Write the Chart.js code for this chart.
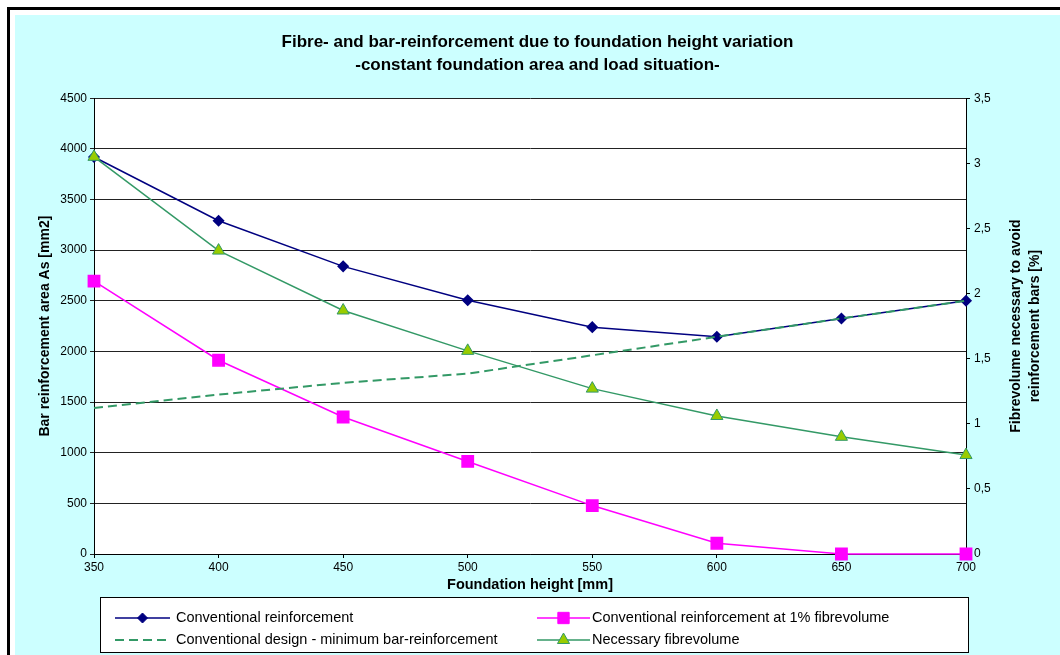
<!DOCTYPE html>
<html>
<head>
<meta charset="utf-8">
<title>Fibre- and bar-reinforcement</title>
<script src="https://cdn.jsdelivr.net/npm/chart.js"></script>
<style>
  html, body { margin: 0; padding: 0; background: #fff; }
  #wrap { width: 1060px; height: 655px; }
</style>
</head>
<body>
<div id="wrap"><canvas id="reinfChart" width="1060" height="655"></canvas></div>
<script>
// values
const heights = [350, 400, 450, 500, 550, 600, 650, 700];
const conventional = [3920, 3290, 2840, 2505, 2240, 2145, 2325, 2500];
const conventionalAt1pct = [2695, 1913, 1353, 914, 478, 106, 0, 0];
const minimumBar = [1442, 1574, 1690, 1781, 1962, 2145, 2325, 2500];
const fibreVolume = [3.05, 2.33, 1.87, 1.56, 1.27, 1.06, 0.90, 0.76];

const seriesLabels = [
  "Conventional reinforcement",
  "Conventional reinforcement at 1% fibrevolume",
  "Conventional design - minimum bar-reinforcement",
  "Necessary fibrevolume"
];
const titleLines = [
  "Fibre- and bar-reinforcement due to foundation height variation",
  "-constant foundation area and load situation-"
];
const xTitle = "Foundation height [mm]";
const yTitle = "Bar reinforcement area As [mm2]";
const y1Title = ["Fibrevolume necessary to avoid", "reinforcement bars [%]"];

const FONT = "'Liberation Sans', Arial, sans-serif";
Chart.defaults.font.family = FONT;
Chart.defaults.color = "#000";

function points(values) {
  return heights.map((h, i) => ({ x: h, y: values[i] }));
}

// cyan chart area, black frame and white plot area
const backgroundPlugin = {
  id: "excelBackground",
  beforeDraw(chart) {
    const ctx = chart.ctx;
    const a = chart.chartArea;
    ctx.save();
    ctx.fillStyle = "#fff";
    ctx.fillRect(0, 0, chart.width, chart.height);
    ctx.fillStyle = "#000";
    ctx.fillRect(7, 7, chart.width - 7, 3);
    ctx.fillRect(7, 7, 3, chart.height - 7);
    ctx.fillStyle = "#CCFFFF";
    ctx.fillRect(15, 15, chart.width - 15, chart.height - 15);
    ctx.fillStyle = "#fff";
    ctx.fillRect(a.left, a.top, a.right - a.left, a.bottom - a.top);
    ctx.restore();
  }
};

// right axis title reads bottom-to-top like the left one
const rightTitlePlugin = {
  id: "rightTitle",
  afterDraw(chart) {
    const ctx = chart.ctx;
    const a = chart.chartArea;
    ctx.save();
    ctx.translate(1016, (a.top + a.bottom) / 2);
    ctx.rotate(-Math.PI / 2);
    ctx.font = "bold 14px " + FONT;
    ctx.fillStyle = "#000";
    ctx.textAlign = "center";
    ctx.textBaseline = "middle";
    y1Title.forEach((t, i) => ctx.fillText(t, 0, i * 19));
    ctx.restore();
  }
};

function legendMarker(ctx, ds, x, y) {
  if (!ds.pointRadius) return;
  const opts = {
    pointStyle: ds.pointStyle,
    radius: ds.pointRadius,
    rotation: 0,
    borderWidth: ds.pointBorderWidth || 1
  };
  ctx.fillStyle = ds.pointBackgroundColor;
  ctx.strokeStyle = ds.pointBorderColor || ds.borderColor;
  ctx.lineWidth = opts.borderWidth;
  ctx.setLineDash([]);
  Chart.helpers.drawPoint(ctx, opts, x, y);
}

// two-column boxed legend like the Excel one
const boxLegendPlugin = {
  id: "boxLegend",
  afterDraw(chart) {
    const ctx = chart.ctx;
    const box = { x: 100.5, y: 597.5, w: 868, h: 55 };
    ctx.save();
    ctx.fillStyle = "#fff";
    ctx.fillRect(box.x, box.y, box.w, box.h);
    ctx.strokeStyle = "#000";
    ctx.lineWidth = 1;
    ctx.strokeRect(box.x, box.y, box.w, box.h);
    const cols = [{ x0: 115, x1: 170, tx: 176 }, { x0: 537, x1: 590, tx: 592 }];
    const rows = [618, 640];
    ctx.font = "14.5px " + FONT;
    ctx.textBaseline = "middle";
    chart.data.datasets.forEach((ds, i) => {
      const c = cols[i % 2];
      const y = rows[Math.floor(i / 2)];
      ctx.strokeStyle = ds.borderColor;
      ctx.lineWidth = ds.borderWidth;
      ctx.setLineDash(ds.borderDash || []);
      ctx.beginPath();
      ctx.moveTo(c.x0, y);
      ctx.lineTo(c.x1, y);
      ctx.stroke();
      legendMarker(ctx, ds, (c.x0 + c.x1) / 2, y);
      ctx.fillStyle = "#000";
      ctx.fillText(ds.label, c.tx, y);
    });
    ctx.restore();
  }
};

const ctx = document.getElementById("reinfChart").getContext("2d");
new Chart(ctx, {
  type: "line",
  data: {
    datasets: [
      {
        label: seriesLabels[0],
        data: points(conventional),
        yAxisID: "y",
        borderColor: "#000080",
        borderWidth: 1.5,
        pointStyle: "rectRot",
        pointRadius: 5,
        pointBackgroundColor: "#000080",
        pointBorderColor: "#000080",
        order: 4
      },
      {
        label: seriesLabels[1],
        data: points(conventionalAt1pct),
        yAxisID: "y",
        borderColor: "#FF00FF",
        borderWidth: 1.5,
        pointStyle: "rect",
        pointRadius: 8,
        pointBackgroundColor: "#FF00FF",
        pointBorderColor: "#FF00FF",
        order: 3
      },
      {
        label: seriesLabels[2],
        data: points(minimumBar),
        yAxisID: "y",
        borderColor: "#339966",
        borderWidth: 2,
        borderDash: [9, 5],
        pointRadius: 0,
        order: 2
      },
      {
        label: seriesLabels[3],
        data: points(fibreVolume),
        yAxisID: "y1",
        borderColor: "#339966",
        borderWidth: 1.5,
        pointStyle: "triangle",
        pointRadius: 7,
        pointBackgroundColor: "#99CC00",
        pointBorderColor: "#339966",
        pointBorderWidth: 1,
        order: 1
      }
    ]
  },
  options: {
    responsive: false,
    animation: false,
    clip: false,
    elements: { line: { tension: 0, fill: false } },
    layout: { padding: { top: 15, left: 15, right: 0, bottom: 56 } },
    plugins: {
      legend: { display: false },
      tooltip: { enabled: false },
      title: {
        display: true,
        text: titleLines,
        font: { size: 17, weight: "bold", lineHeight: 1.36 },
        color: "#000",
        padding: { top: 16, bottom: 21 }
      }
    },
    scales: {
      x: {
        type: "linear",
        min: 350,
        max: 700,
        ticks: { stepSize: 50, autoSkip: false, maxRotation: 0, font: { size: 12 }, padding: 2 },
        grid: { drawOnChartArea: false, tickLength: 4, color: "#000" },
        border: { color: "#000" },
        title: { display: true, text: xTitle, font: { size: 14.5, weight: "bold" }, padding: { bottom: 5 } },
        afterFit: s => { s.height = 45; }
      },
      y: {
        position: "left",
        min: 0,
        max: 4500,
        ticks: { stepSize: 500, font: { size: 12 }, padding: 3, callback: v => String(v) },
        grid: { color: "#222", tickLength: 4 },
        border: { color: "#000" },
        title: { display: true, text: yTitle, font: { size: 14, weight: "bold" }, padding: { top: 22 } },
        afterFit: s => { s.width = 79; }
      },
      y1: {
        position: "right",
        min: 0,
        max: 3.5,
        ticks: {
          stepSize: 0.5,
          font: { size: 12 },
          padding: 4,
          callback: v => String(v).replace(".", ",")
        },
        grid: { drawOnChartArea: false, tickLength: 4, color: "#000" },
        border: { color: "#000" },
        afterFit: s => { s.width = 94; }
      }
    }
  },
  plugins: [backgroundPlugin, rightTitlePlugin, boxLegendPlugin]
});
</script>
</body>
</html>
